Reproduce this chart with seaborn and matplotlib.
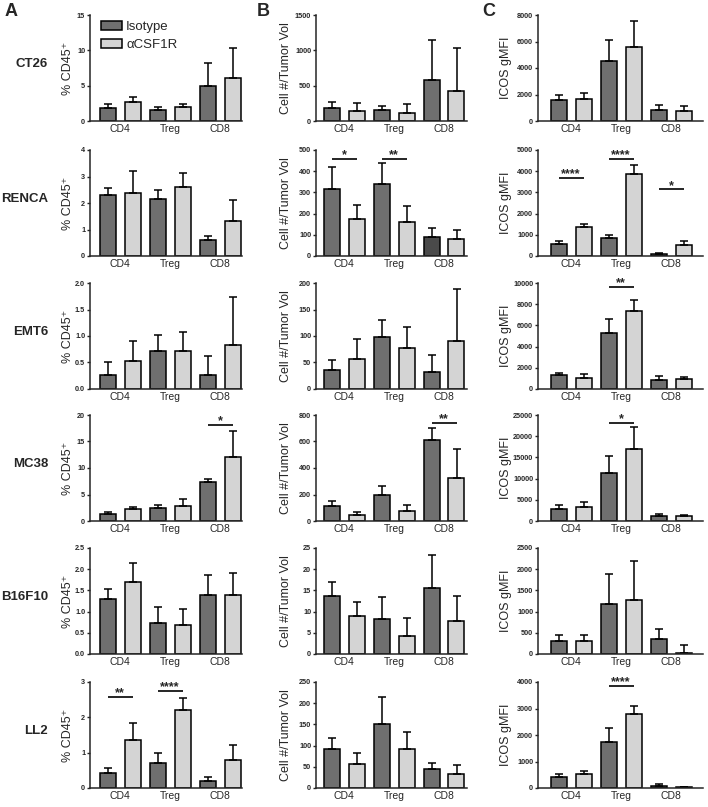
import numpy as np
import pandas as pd
import matplotlib
matplotlib.use('Agg')
import matplotlib.pyplot as plt
import matplotlib.ticker as ticker
from matplotlib.patches import Patch
import seaborn as sns

sns.set_style('ticks')
plt.rcParams['font.family'] = ['Liberation Sans', 'DejaVu Sans']

tumors = ['CT26', 'RENCA', 'EMT6', 'MC38', 'B16F10', 'LL2']
cells = ['CD4', 'Treg', 'CD8']
groups = ['Isotype', 'αCSF1R']

# column A: % CD45+  (mean, and top of error bar)
pct_iso = [[1.9, 1.5, 4.9], [2.3, 2.15, 0.6], [0.27, 0.72, 0.26],
           [1.3, 2.4, 7.4], [1.3, 0.73, 1.4], [0.43, 0.7, 0.2]]
pct_iso_hi = [[2.4, 1.95, 8.2], [2.55, 2.5, 0.77], [0.5, 1.02, 0.63],
              [1.7, 3.1, 7.9], [1.53, 1.12, 1.87], [0.57, 1.0, 0.32]]
pct_acsf = [[2.7, 2.0, 6.1], [2.38, 2.6, 1.32], [0.53, 0.72, 0.83],
            [2.2, 2.9, 12.0], [1.7, 0.69, 1.4], [1.35, 2.2, 0.8]]
pct_acsf_hi = [[3.4, 2.35, 10.3], [3.2, 3.15, 2.1], [0.9, 1.08, 1.73],
               [2.7, 4.1, 17.0], [2.15, 1.06, 1.9], [1.84, 2.54, 1.22]]
pct_ymax = [15, 4, 2, 20, 2.5, 3]
pct_step = [5, 1, 0.5, 5, 0.5, 1]

# column B: cell # / tumor volume
cnt_iso = [[185, 150, 580], [318, 338, 90], [35, 99, 32],
           [115, 200, 610], [13.6, 8.2, 15.5], [93, 150, 45]]
cnt_iso_hi = [[270, 215, 1150], [420, 440, 130], [54, 131, 65],
              [150, 265, 705], [17, 13.5, 23.3], [118, 214, 59]]
cnt_acsf = [[145, 115, 430], [175, 160, 82], [57, 78, 91],
            [48, 75, 325], [8.9, 4.3, 7.9], [57, 93, 33]]
cnt_acsf_hi = [[255, 245, 1040], [240, 238, 125], [94, 117, 189],
               [70, 122, 540], [12.3, 8.5, 13.6], [83, 131, 54]]
cnt_ymax = [1500, 500, 200, 800, 25, 250]
cnt_step = [500, 100, 50, 200, 5, 50]

# column C: ICOS gMFI
icos_iso = [[1600, 4530, 800], [560, 850, 80], [1350, 5300, 850],
            [2900, 11300, 1200], [295, 1180, 350], [420, 1750, 90]]
icos_iso_hi = [[2000, 6150, 1170], [700, 1000, 130], [1550, 6650, 1200],
               [3700, 15300, 1600], [445, 1880, 595], [530, 2250, 165]]
icos_acsf = [[1650, 5580, 780], [1370, 3850, 540], [1050, 7350, 950],
             [3300, 17000, 1200], [300, 1270, 18], [510, 2780, 30]]
icos_acsf_hi = [[2080, 7530, 1120], [1530, 4300, 700], [1400, 8350, 1150],
                [4500, 22200, 1400], [457, 2200, 213], [645, 3110, 42]]
icos_ymax = [8000, 5000, 10000, 25000, 2500, 4000]
icos_step = [2000, 1000, 2000, 5000, 500, 1000]

# significance: (row, column, cell index, bar height, stars)
sig_marks = [(1, 1, 0, 457, '*'), (1, 1, 1, 457, '**'),
             (1, 2, 0, 3700, '****'), (1, 2, 1, 4570, '****'), (1, 2, 2, 3140, '*'),
             (2, 2, 1, 9600, '**'),
             (3, 0, 2, 18.1, '*'), (3, 1, 2, 740, '**'), (3, 2, 1, 23100, '*'),
             (5, 0, 0, 2.58, '**'), (5, 0, 1, 2.74, '****'), (5, 2, 1, 3840, '****')]

panels = [
    (pct_iso, pct_iso_hi, pct_acsf, pct_acsf_hi, pct_ymax, pct_step, '% CD45⁺'),
    (cnt_iso, cnt_iso_hi, cnt_acsf, cnt_acsf_hi, cnt_ymax, cnt_step, 'Cell #/Tumor Vol'),
    (icos_iso, icos_iso_hi, icos_acsf, icos_acsf_hi, icos_ymax, icos_step, 'ICOS gMFI'),
]

c_iso = '#6f6f6f'
c_acsf = '#d4d4d4'

W, H = 708, 807
fig = plt.figure(figsize=(W / 100, H / 100), dpi=100)

# layout in pixels
col_left = [90, 316, 538]
col_right = [242, 467, 703]
col_xlim = [(-0.6, 2.44), (-0.56, 2.46), (-0.66, 2.64)]
col_labelx = [-0.105, -0.16, -0.155]
row_top = [15, 150, 283, 415, 548, 682]
ax_h = 106

for r, tumor in enumerate(tumors):
    for c, (iso, iso_hi, acsf, acsf_hi, ymax, step, ylab) in enumerate(panels):
        L, R = col_left[c], col_right[c]
        ax = fig.add_axes([L / W, 1 - (row_top[r] + ax_h) / H, (R - L) / W, ax_h / H])
        df = pd.DataFrame({'cell': cells * 2,
                           'group': [groups[0]] * 3 + [groups[1]] * 3,
                           'value': iso[r] + acsf[r]})
        sns.barplot(data=df, x='cell', y='value', hue='group', order=cells,
                    hue_order=groups, palette=[c_iso, c_acsf], width=1.0, gap=0.36,
                    edgecolor='black', linewidth=1.1, errorbar=None, legend=False, ax=ax)
        bars = sorted(ax.patches, key=lambda p: p.get_x())
        if (r, c) == (1, 1):
            bars[4].set_facecolor('#4a4a4a')
        xs = [p.get_x() + p.get_width() / 2 for p in bars]
        means = [p.get_height() for p in bars]
        tops = [v for pair in zip(iso_hi[r], acsf_hi[r]) for v in pair]
        ax.errorbar(xs, means, yerr=[np.zeros(6), np.array(tops) - np.array(means)],
                    fmt='none', ecolor='black', elinewidth=1.1, capsize=3, capthick=1.1)

        for (sr, sc, ci, sy, stars) in sig_marks:
            if sr == r and sc == c:
                x0, x1 = xs[2 * ci], xs[2 * ci + 1]
                ax.plot([x0, x1], [sy, sy], color='black', lw=1.2, solid_capstyle='butt')
                ax.annotate(stars, ((x0 + x1) / 2, sy), xytext=(0, 0.5),
                            textcoords='offset points', ha='center', va='baseline',
                            fontsize=9, fontweight='bold')

        ax.set_xlim(*col_xlim[c])
        ax.set_ylim(0, ymax[r])
        ax.set_yticks(np.arange(0, ymax[r] + step[r] / 2, step[r]))
        fmt = '%.1f' if step[r] < 1 else '%d'
        ax.yaxis.set_major_formatter(ticker.FormatStrFormatter(fmt))
        ax.tick_params(axis='y', length=2.5, width=1, labelsize=5.2, pad=1)
        ax.tick_params(axis='x', length=0, labelsize=7.5, pad=2)
        for lbl in ax.get_yticklabels():
            lbl.set_fontweight('bold')
        for s in ['top', 'right']:
            ax.spines[s].set_visible(False)
        for s in ['left', 'bottom']:
            ax.spines[s].set_linewidth(1.1)
        ax.set_xlabel('')
        ax.set_ylabel(ylab, fontsize=9)
        ax.yaxis.set_label_coords(col_labelx[c], 0.5)

        if r == 0 and c == 0:
            handles = [Patch(facecolor=c_iso, edgecolor='black', lw=1.1, label=groups[0]),
                       Patch(facecolor=c_acsf, edgecolor='black', lw=1.1, label=groups[1])]
            ax.legend(handles=handles, loc='upper left', bbox_to_anchor=(0.02, 1.02),
                      frameon=False, fontsize=9.5, handlelength=1.6, handleheight=0.7,
                      handletextpad=0.3, labelspacing=0.45, borderaxespad=0.2)

    fig.text(48 / W, 1 - (row_top[r] + ax_h / 2 - 4) / H, tumor, ha='right',
             va='center', fontsize=9.5, fontweight='bold')

for letter, x in zip(['A', 'B', 'C'], [5, 257, 482]):
    fig.text(x / W, 1 - 11 / H, letter, ha='left', va='center', fontsize=13,
             fontweight='bold')

fig.savefig('out.png', dpi=100)
